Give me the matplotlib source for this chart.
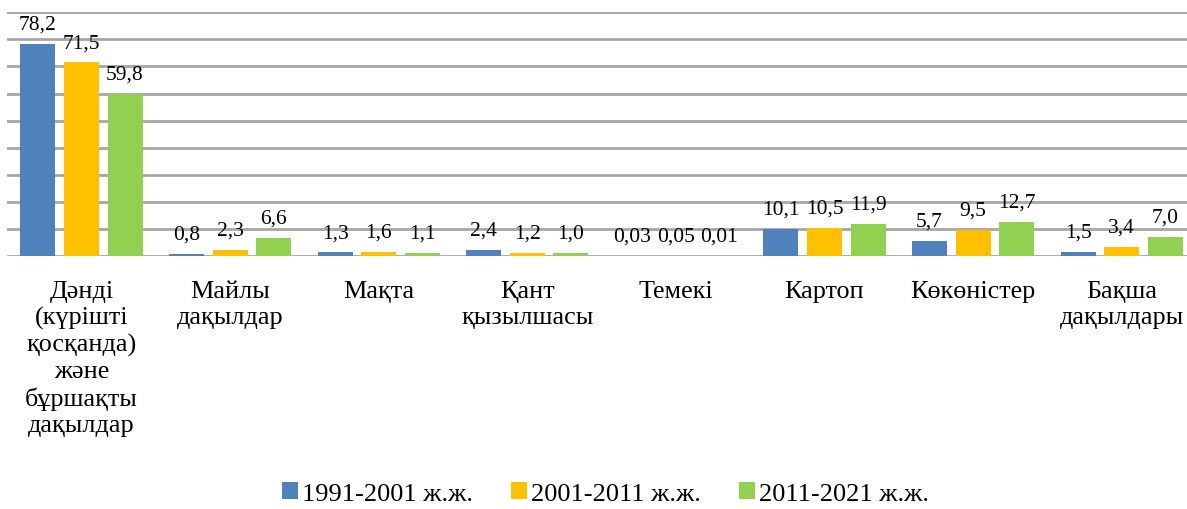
import numpy as np
import matplotlib.pyplot as plt

plt.rcParams['font.family'] = ['Liberation Serif', 'DejaVu Serif']

categories = ["Дәнді\n(күрішті\nқосқанда)\nжәне\nбұршақты\nдақылдар",
              "Майлы\nдақылдар", "Мақта", "Қант\nқызылшасы", "Темекі",
              "Картоп", "Көкөністер", "Бақша\nдақылдары"]
series_names = ["1991-2001 ж.ж.", "2001-2011 ж.ж.", "2011-2021 ж.ж."]
v1991 = [78.2, 0.8, 1.3, 2.4, 0.03, 10.1, 5.7, 1.5]
v2001 = [71.5, 2.3, 1.6, 1.2, 0.05, 10.5, 9.5, 3.4]
v2011 = [59.8, 6.6, 1.1, 1.0, 0.01, 11.9, 12.7, 7.0]
colors = ["#4F81BD", "#FFC000", "#92D050"]

def fmt(v):
    s = "%.2f" % v if v < 0.1 else "%.1f" % v
    return s.replace(".", ",")

fig = plt.figure(figsize=(11.87, 5.10), dpi=100)
# plot area runs slightly past the right edge of the picture (cropped in the original)
ax = fig.add_axes([7.2/1187, 253/510, 1188.8/1187, 243.7/510])

x = np.arange(len(categories))
w = 0.236
step = 0.293
for i, (vals, c, name) in enumerate(zip([v1991, v2001, v2011], colors, series_names)):
    pos = x + (i - 1) * step
    ax.bar(pos, vals, width=w, color=c, label=name, zorder=3)
    for px, v in zip(pos, vals):
        ax.annotate(fmt(v), (px, v), xytext=(0, 11), textcoords='offset points',
                    ha='center', va='baseline', fontsize=15.5, zorder=4)

ax.set_xlim(-0.5, len(categories) - 0.5)
ax.set_ylim(0, 90)
ax.set_yticks(np.arange(0, 91, 10))
ax.yaxis.grid(True, color='#A6A6A6', linewidth=2)
ax.set_axisbelow(True)
ax.tick_params(axis='y', left=False, labelleft=False)
ax.tick_params(axis='x', bottom=False, pad=14)
for s in ax.spines.values():
    s.set_visible(False)
ax.set_xticks(x)
ax.set_xticklabels(categories, fontsize=18.8, linespacing=1.225, va='top')

fig.legend(loc='center', bbox_to_anchor=(0.51, 0.03), ncol=3, frameon=False,
           fontsize=19, handlelength=0.6, handleheight=0.6, handletextpad=0.15,
           columnspacing=1.45)

fig.savefig("out.png", dpi=100)
